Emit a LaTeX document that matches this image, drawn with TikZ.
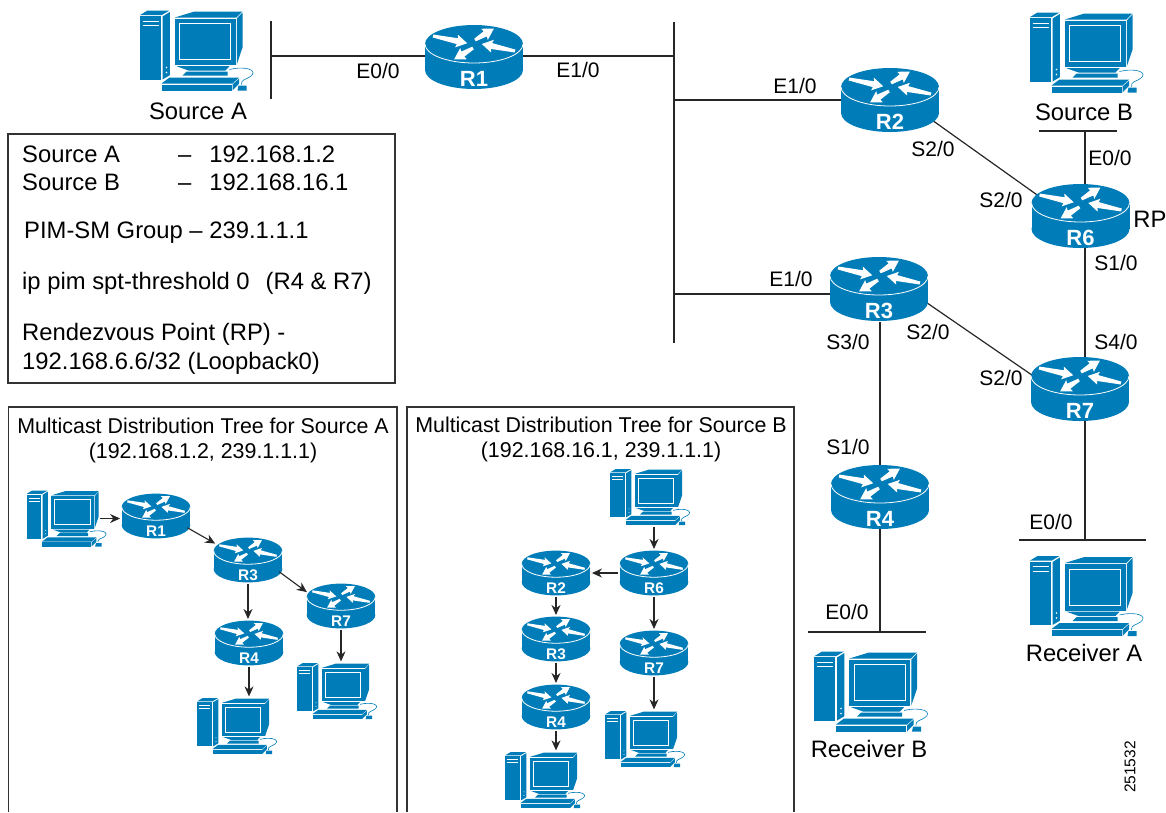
\documentclass[tikz,border=0pt]{standalone}
\usepackage{fontspec}
\setmainfont{Liberation Sans}
\usetikzlibrary{arrows.meta,backgrounds,shapes.geometric}
\definecolor{ciscoblue}{HTML}{007DB9}
\tikzset{
  rtr/.style={shape=ellipse,minimum width=98,minimum height=64,inner sep=0,transform shape},
  pcbox/.style={shape=rectangle,minimum width=92,minimum height=80,inner sep=0,transform shape},
  rlabel/.style={text=white,font=\fontsize{22}{22}\selectfont\bfseries,inner sep=0,transform shape},
  big/.style={font=\fontsize{23.8}{28}\selectfont,inner sep=0},
  port/.style={font=\fontsize{21}{25}\selectfont,inner sep=0},
  title/.style={font=\fontsize{21.4}{24}\selectfont,inner sep=0},
  wire/.style={line width=1.2pt,black!85},
  arr/.style={line width=1.1pt,black!85,-{Stealth[length=10pt,width=9pt]},shorten >=1.5pt,shorten <=1.5pt},
  frame/.style={line width=1.1pt,black!80},
  routerpic/.pic={
    \node[rtr] (-n) at (0,0) {};
    \fill[ciscoblue] (0,13) ellipse (49 and 19);
    \fill[ciscoblue] (-49,-13) rectangle (49,13);
    \fill[ciscoblue] (0,-13) ellipse (49 and 19);
    \draw[white,line width=.8pt] (-49,-13) arc[start angle=180,end angle=0,x radius=49,y radius=19];
    \foreach \tx/\ty/\rot/\len in {-41/-21/-12/35, 1/-17/31/22, 41/-6/168/34, -1/-9/211/22}
      \fill[white,shift={(\tx,\ty)},rotate=\rot]
        (0,1.5) -- (\len-10,3) -- (\len-11,6.5) -- (\len,0)
        -- (\len-11,-6.5) -- (\len-10,-3) -- (0,-1.5) -- cycle;
    \node[rlabel] (-t) at (0,22) {#1};
  },
  pcpic/.pic={
    \node[pcbox] (-n) at (0,0) {};
    \begin{scope}[ciscoblue]
    % tower
    \fill (-56.7,-34.3) -- (-36,-34.3) -- (-36,29) -- (-56.7,29) -- cycle;
    \fill (-56.7,-35.3) -- (-49,-40) -- (-27,-40) -- (-35,-35.3) -- cycle;
    \fill (-34,-34) -- (-26.7,-38.5) -- (-26.7,24.7) -- (-34,29) -- cycle;
    % monitor
    \fill (-21.7,-32) -- (39.3,-32) -- (39.3,14.7) -- (-21.7,14.7) -- cycle;
    \fill (-21.7,-33) -- (-2,-39) -- (46,-39) -- (39.8,-33) -- cycle;
    \fill (40.3,-32) -- (46,-38) -- (46,-3) -- (40.3,14) -- cycle;
    \fill (-20,15.7) -- (33,15.7) -- (29,20) -- (-8,20) -- cycle;
    \fill (-10,21) -- (31,21) -- (31,25) -- (-14,25) -- cycle;
    % keyboard
    \fill (-27,27) -- (42.7,27) -- (36,33) -- (-35,33) -- cycle;
    \fill (-35,34) rectangle (35,40);
    \fill (36,34) -- (42.7,28) -- (42.7,33) -- (36,40) -- cycle;
    \fill (42,35) -- (50,35) -- (50,40) -- (41,40) -- cycle;
    \draw[line width=.6pt] (33,19) .. controls (50,15) and (62,20) .. (54,26) .. controls (50,29) and (44,29) .. (45,34);
    \end{scope}
    \draw[white,line width=.8pt] (-16.7,-27) rectangle (34,9);
    \draw[white,line width=.6pt] (-54,-29.5) -- (-38,-29.5) (-54,-25) -- (-38,-25);
    \fill[white] (-30,22) circle (.8) (-30,17) circle (.8);
  }
}

\begin{document}
\begin{tikzpicture}[x=1pt,y=-1pt]
\useasboundingbox (0,0) rectangle (1166,812);

% main network
\pic (srcA) at (196.5,50.5) {pcpic};
\pic (srcB) at (1086.5,52.5) {pcpic};
\pic (rcvA) at (1086.5,596) {pcpic};
\pic (rcvB) at (871,691.5) {pcpic};
\pic (R1) at (474,57) {routerpic=R1};
\pic (R2) at (890,100) {routerpic=R2};
\pic (R3) at (879,289) {routerpic=R3};
\pic (R4) at (880,497) {routerpic=R4};
\pic (R6) at (1080.5,216) {routerpic=R6};
\pic (R7) at (1080,389) {routerpic=R7};

\coordinate (barAt) at (271,21);
\coordinate (barAb) at (271,99);
\coordinate (barA) at (271,56);
\coordinate (lanT) at (674,22);
\coordinate (lanB) at (674,343);
\coordinate (lan1) at (674,56);
\coordinate (lan2) at (674,100);
\coordinate (lan3) at (674,294);
\coordinate (barBl) at (1039,131);
\coordinate (barBr) at (1117,131);
\coordinate (barB) at (1085,131);
\coordinate (r6r7) at (1085,216);
\coordinate (r7rcv) at (1085,389);
\coordinate (barRAl) at (1019,540);
\coordinate (barRAr) at (1146,540);
\coordinate (barRA) at (1085,540);
\coordinate (barRBl) at (808,632);
\coordinate (barRBr) at (926,632);
\coordinate (barRB) at (880,632);
\coordinate (r3r4a) at (880,322);
\coordinate (r3r4b) at (880,465);

\begin{scope}[on background layer]
\draw[wire] (barAt) -- (barAb);
\draw[wire] (barA) -- (barA -| R1-n.west);
\draw[wire] (lan1) -- (lan1 -| R1-n.east);
\draw[wire] (lanT) -- (lanB);
\draw[wire] (lan2) -- (lan2 -| R2-n.west);
\draw[wire] (lan3) -- (lan3 -| R3-n.west);
\draw[wire] (R2-n.-25) -- (R6-n.155);
\draw[wire] (R3-n.-15) -- (R7-n.165);
\draw[wire] (r3r4a) -- (r3r4b);
\draw[wire] (R4-n.south) -- (barRB);
\draw[wire] (barRBl) -- (barRBr);
\draw[wire] (barBl) -- (barBr);
\draw[wire] (barB) -- (r6r7);
\draw[wire] (r6r7) -- (r7rcv);
\draw[wire] (r7rcv) -- (barRA);
\draw[wire] (barRAl) -- (barRAr);
\end{scope}

\node[big] (lblSrcA) at (198,111) {Source A};
\node[big] (lblSrcB) at (1084,112) {Source B};
\node[big] (lblRcvA) at (1084,653) {Receiver A};
\node[big] (lblRcvB) at (869,749) {Receiver B};
\node[big] (lblRP) at (1150,219) {RP};

\node[port] (p1) at (378,71) {E0/0};
\node[port] (p2) at (578,70) {E1/0};
\node[port] (p3) at (795,86) {E1/0};
\node[port] (p4) at (791,279) {E1/0};
\node[port] (p5) at (933,149) {S2/0};
\node[port] (p6) at (1001,200) {S2/0};
\node[port] (p7) at (1110,158) {E0/0};
\node[port] (p8) at (1116,263) {S1/0};
\node[port] (p9) at (1116,342) {S4/0};
\node[port] (p10) at (928,332) {S2/0};
\node[port] (p11) at (1001,378) {S2/0};
\node[port] (p12) at (848,342) {S3/0};
\node[port] (p13) at (848,447) {S1/0};
\node[port] (p14) at (847,612) {E0/0};
\node[port] (p15) at (1051,522) {E0/0};
\node[font=\fontsize{15.5}{18}\selectfont,inner sep=0,rotate=90] (figno) at (1130,767) {251532};

% address box
\draw[frame] (8,134) rectangle (395,383);
\node[big,anchor=west] (i1) at (22,154) {Source A};
\node[big,anchor=west] (i2) at (178,154) {–\hspace{18pt}192.168.1.2};
\node[big,anchor=west] (i3) at (22,182) {Source B};
\node[big,anchor=west] (i4) at (178,182) {–\hspace{18pt}192.168.16.1};
\node[big,anchor=west] (i5) at (24,232.5) {PIM-SM Group – 239.1.1.1};
\node[big,anchor=west] (i6) at (22,283) {ip pim spt-threshold 0\hspace{16pt}(R4 \& R7)};
\node[big,anchor=west] (i7) at (22,334.5) {Rendezvous Point (RP) -};
\node[big,anchor=west] (i8) at (22,363.5) {192.168.6.6/32 (Loopback0)};

% tree for source A
\draw[frame] (8.5,812) -- (8.5,407) -- (397,407) -- (397,812);
\node[title] (ta1) at (203,426) {Multicast Distribution Tree for Source A};
\node[title] (ta2) at (203,453) {(192.168.1.2, 239.1.1.1)};
\pic[scale=.7] (aS) at (66.5,518.5) {pcpic};
\pic[scale=.7] (aR1) at (156,516) {routerpic=R1};
\pic[scale=.7] (aR3) at (248,560) {routerpic=R3};
\pic[scale=.7] (aR4) at (249,643) {routerpic=R4};
\pic[scale=.7] (aR7) at (341,606) {routerpic=R7};
\pic[scale=.7] (aD4) at (237,726) {pcpic};
\pic[scale=.7] (aD7) at (337,691) {pcpic};
\draw[arr] (aS-n.east) -- (aS-n.east -| aR1-n.west);
\draw[arr,shorten >=6pt] (aR1-n.-20) -- (aR3-n.154);
\draw[arr,shorten >=5pt] (aR3-n.-20) -- (aR7-n.160);
\draw[arr] (aR3-n.south) -- (aR3-n.south |- aR4-n.north);
\draw[arr] (aR7-n.south) -- (aR7-n.south |- aD7-n.north);
\draw[arr] (aR4-n.south) -- (aR4-n.south |- aD4-n.north);

% tree for source B
\draw[frame] (407,812) -- (407,407) -- (794,407) -- (794,812);
\node[title] (tb1) at (601,425) {Multicast Distribution Tree for Source B};
\node[title] (tb2) at (601,452) {(192.168.16.1, 239.1.1.1)};
\pic[scale=.7] (bS) at (650,497) {pcpic};
\pic[scale=.7] (bR6) at (654,573) {routerpic=R6};
\pic[scale=.7] (bR2) at (556,573) {routerpic=R2};
\pic[scale=.7] (bR3) at (556,639) {routerpic=R3};
\pic[scale=.7] (bR4) at (556,707) {routerpic=R4};
\pic[scale=.7] (bR7) at (654,653) {routerpic=R7};
\pic[scale=.7] (bD7) at (645,739) {pcpic};
\pic[scale=.7] (bD4) at (545,780) {pcpic};
\draw[arr] (bS-n.south -| bR6-n.north) -- (bR6-n.north);
\draw[arr] (bR6-n.west) -- (bR2-n.east);
\draw[arr] (bR2-n.south) -- (bR3-n.north);
\draw[arr] (bR3-n.south) -- (bR4-n.north);
\draw[arr] (bR4-n.south) -- (bR4-n.south |- bD4-n.north);
\draw[arr] (bR6-n.south) -- (bR7-n.north);
\draw[arr] (bR7-n.south) -- (bR7-n.south |- bD7-n.north);

\end{tikzpicture}
\end{document}
